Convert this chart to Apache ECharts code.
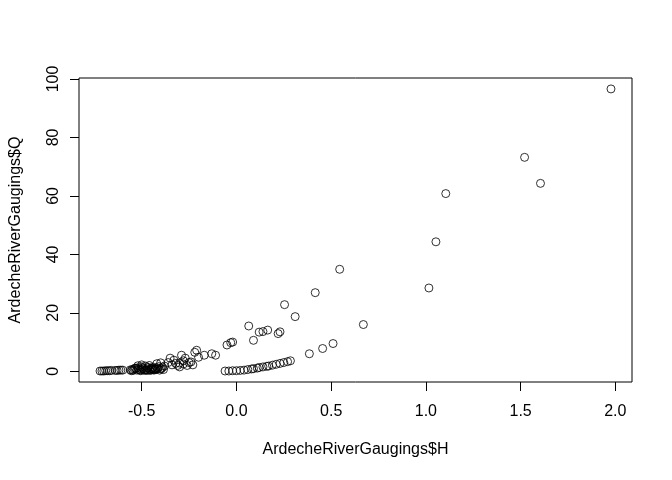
<!DOCTYPE html>
<html>
<head>
<meta charset="utf-8">
<script src="https://cdn.jsdelivr.net/npm/echarts@6.0.0/dist/echarts.min.js"></script>
<style>
  html, body { margin: 0; padding: 0; background: #fff; }
  #chart { width: 672px; height: 480px; }
</style>
</head>
<body>
<div id="chart"></div>
<script>
// 水位 H 和流量 Q
var hValues = [
    -0.72, -0.71, -0.70, -0.69, -0.68, -0.67, -0.66, -0.64, -0.63, -0.62, -0.61, -0.60,
    -0.56, -0.55, -0.54, -0.53, -0.52, -0.51, -0.50, -0.50, -0.49, -0.48, -0.48, -0.47,
    -0.46, -0.46, -0.45, -0.44, -0.44, -0.43, -0.42, -0.42, -0.41, -0.40, -0.40, -0.39,
    -0.38, -0.52, -0.50, -0.47, -0.45, -0.43,
    -0.555, -0.545, -0.535, -0.525, -0.515, -0.505, -0.495, -0.485, -0.475, -0.465,
    -0.455, -0.445, -0.435, -0.425, -0.415, -0.405, -0.395, -0.385,
    -0.36, -0.35, -0.33, -0.32, -0.31, -0.30, -0.29, -0.28, -0.27, -0.26, -0.25, -0.24,
    -0.23, -0.22, -0.21, -0.20, -0.17, -0.13, -0.11, -0.05, -0.03, -0.02,
    -0.34, -0.30, -0.28,
    0.065, 0.09, 0.12, 0.14, 0.165, 0.22, 0.23, 0.254, 0.31, 0.416, 0.545,
    1.053, 1.105, 1.521, 1.977,
    -0.06, -0.04, -0.02, 0.00, 0.02, 0.04, 0.06, 0.08, 0.09, 0.11, 0.12, 0.14,
    0.16, 0.17, 0.19, 0.21, 0.23, 0.25, 0.27, 0.285,
    0.385, 0.455, 0.51, 0.67, 1.016, 1.605
];
var qValues = [
    0.1, 0.1, 0.1, 0.2, 0.2, 0.2, 0.3, 0.3, 0.3, 0.4, 0.4, 0.4,
    0.5, 0.6, 0.8, 1.0, 1.2, 0.4, 0.6, 1.5, 0.8, 0.5, 1.8, 1.2,
    0.7, 2.0, 1.0, 0.6, 1.4, 0.9, 1.2, 2.6, 1.6, 0.8, 2.9, 1.4,
    1.8, 1.9, 2.2, 0.3, 0.5, 0.7,
    0.2, 0.3, 1.1, 0.4, 0.7, 0.2, 1.1, 0.3, 0.5, 1.3,
    0.3, 1.0, 0.4, 0.6, 0.9, 0.4, 1.0, 0.6,
    3.0, 4.5, 3.8, 2.7, 2.0, 1.5, 5.5, 2.5, 4.5, 2.0, 3.0, 3.2,
    2.2, 6.5, 7.2, 4.8, 5.5, 6.0, 5.5, 9.0, 9.8, 10.0,
    2.2, 2.8, 3.6,
    15.5, 10.6, 13.4, 13.6, 14.1, 12.9, 13.5, 22.8, 18.7, 26.9, 34.9,
    44.3, 60.8, 73.2, 96.6,
    0.1, 0.1, 0.2, 0.2, 0.3, 0.4, 0.6, 0.8, 0.9, 1.1, 1.3, 1.5,
    1.7, 1.8, 2.1, 2.4, 2.7, 3.0, 3.3, 3.6,
    6.0, 7.8, 9.5, 16.0, 28.5, 64.3
];
var xTicks = [-0.5, 0.0, 0.5, 1.0, 1.5, 2.0];
var yTicks = [0, 20, 40, 60, 80, 100];

var points = [];
for (var i = 0; i < hValues.length; i++) {
    points.push([hValues[i], qValues[i]]);
}

var myChart = echarts.init(document.getElementById('chart'), null, { renderer: 'canvas' });

var font = 'Liberation Sans, Arial, Helvetica, sans-serif';

var option = {
    backgroundColor: '#fff',
    animation: false,
    grid: {
        left: 78, right: 40, top: 78, bottom: 98,
        show: true,
        borderColor: '#000',
        borderWidth: 1,
        backgroundColor: 'transparent'
    },
    xAxis: {
        type: 'value',
        min: -0.831,
        max: 2.088,
        name: 'ArdecheRiverGaugings$H',
        nameLocation: 'middle',
        nameGap: 60,
        nameTextStyle: { color: '#000', fontSize: 16, fontFamily: font },
        axisLine: { show: false, onZero: false },
        splitLine: { show: false },
        axisTick: {
            show: true, length: 9, customValues: xTicks,
            lineStyle: { color: '#000', width: 1 }
        },
        axisLabel: {
            color: '#000', fontSize: 16, fontFamily: font, margin: 22,
            customValues: xTicks,
            formatter: function (v) { return v.toFixed(1); }
        }
    },
    yAxis: {
        type: 'value',
        min: -3.66,
        max: 100.34,
        name: 'ArdecheRiverGaugings$Q',
        nameLocation: 'middle',
        nameGap: 55,
        nameTextStyle: { color: '#000', fontSize: 16, fontFamily: font },
        axisLine: { show: false, onZero: false },
        splitLine: { show: false },
        axisTick: {
            show: true, length: 9, customValues: yTicks,
            lineStyle: { color: '#000', width: 1 }
        },
        axisLabel: {
            color: '#000', fontSize: 16, fontFamily: font, margin: 17, rotate: 90,
            customValues: yTicks
        }
    },
    series: [{
        type: 'scatter',
        data: points,
        symbol: 'circle',
        symbolSize: 8,
        itemStyle: {
            color: 'rgba(0,0,0,0)',
            borderColor: '#000',
            borderWidth: 1
        }
    }]
};

myChart.setOption(option);
</script>
</body>
</html>
